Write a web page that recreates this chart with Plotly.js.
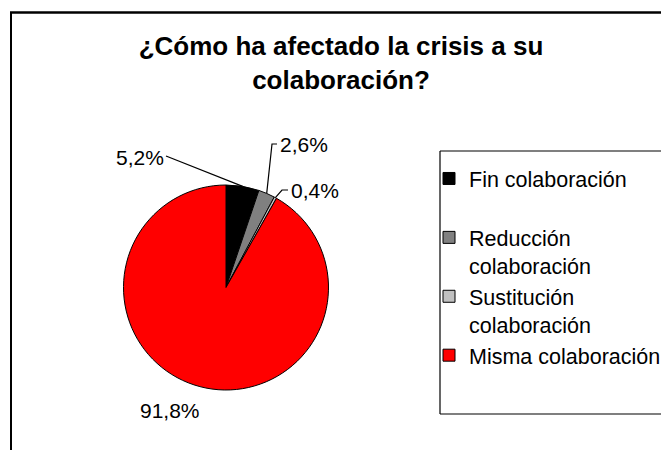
<!DOCTYPE html>
<html>
<head>
<meta charset="utf-8">
<script src="https://cdn.plot.ly/plotly-3.0.1.min.js"></script>
<style>
  html, body { margin: 0; padding: 0; background: #ffffff; }
  #chart { width: 661px; height: 450px; }
</style>
</head>
<body>
<div id="chart"></div>
<script>
// ---- data ----
const categories = ['Fin colaboración', 'Reducción colaboración', 'Sustitución colaboración', 'Misma colaboración'];
const legendLabels = ['Fin colaboración<br>\u00a0', 'Reducción<br>colaboración', 'Sustitución<br>colaboración', 'Misma colaboración'];
const values = [5.2, 2.6, 0.4, 91.8];
const colors = ['#000000', '#808080', '#c0c0c0', '#ff0000'];
const titleText = '¿Cómo ha afectado la crisis a su<br>colaboración?';

// ---- layout geometry (pixels) ----
const W = 661, H = 450;
const cx = 226, cy = 287.5, R = 102.5;
const FONT = 'Liberation Sans, Arial, sans-serif';

// label placement (text centre and leader elbow points, pixels)
const labelPlacement = [
  { text: [140, 157], leader: [[166, 156]] },
  { text: [304, 145], leader: [[277, 144], [272, 144]] },
  { text: [315, 190], leader: [[288, 190], [282, 190]] },
  { text: [170, 410], leader: [] }
];

const px = x => x / W;
const py = y => 1 - y / H;
const pathOf = pts => pts.map((p, k) => (k === 0 ? 'M' : 'L') + px(p[0]).toFixed(5) + ',' + py(p[1]).toFixed(5)).join(' ');
const lineShape = (x0, y0, x1, y1, w) => ({
  type: 'line', xref: 'paper', yref: 'paper', layer: 'above',
  x0: px(x0), y0: py(y0), x1: px(x1), y1: py(y1),
  line: { color: '#000000', width: w }
});

const total = values.reduce((a, b) => a + b, 0);
let cum = 0;
const annotations = [];
const shapes = [];

values.forEach((v, i) => {
  const midFrac = (cum + v / 2) / total;
  cum += v;
  const ang = midFrac * 2 * Math.PI; // clockwise from 12 o'clock
  const ex = cx + R * Math.sin(ang);
  const ey = cy - R * Math.cos(ang);
  const pl = labelPlacement[i];
  annotations.push({
    xref: 'paper', yref: 'paper',
    x: px(pl.text[0]), y: py(pl.text[1]),
    xanchor: 'center', yanchor: 'middle',
    text: v.toFixed(1).replace('.', ',') + '%',
    showarrow: false,
    font: { family: FONT, size: 21, color: '#000000' }
  });
  if (pl.leader.length) {
    shapes.push({
      type: 'path', xref: 'paper', yref: 'paper',
      path: pathOf(pl.leader.concat([[ex, ey]])),
      line: { color: '#000000', width: 1.2 }
    });
  }
});

// outer chart frame (left and top edges; right/bottom lie outside the picture)
shapes.push(lineShape(11, 450, 11, 12.5, 2));
shapes.push(lineShape(10, 12.5, 661, 12.5, 2.5));
// legend frame (left, top, bottom edges)
shapes.push(lineShape(440, 151, 661, 151, 1.2));
shapes.push(lineShape(440, 151, 440, 414, 1.2));
shapes.push(lineShape(440, 414, 661, 414, 1.2));

const trace = {
  type: 'pie',
  labels: legendLabels,
  values: values,
  customdata: categories,
  sort: false,
  direction: 'clockwise',
  rotation: 0,
  textinfo: 'none',
  hoverinfo: 'skip',
  marker: { colors: colors, line: { color: '#000000', width: 1 } },
  domain: { x: [px(cx - R), px(cx + R)], y: [py(cy + R), py(cy - R)] },
  automargin: false
};

const layout = {
  width: W, height: H,
  margin: { l: 0, r: 0, t: 0, b: 0, autoexpand: false },
  paper_bgcolor: '#ffffff',
  font: { family: FONT, color: '#000000' },
  title: {
    text: '<b>' + titleText + '</b>',
    font: { family: FONT, size: 26, color: '#000000' },
    x: 341 / W, xanchor: 'center', xref: 'container',
    y: 1 - 55 / H, yanchor: 'top', yref: 'container'
  },
  showlegend: true,
  legend: {
    x: px(469 - 40), xanchor: 'left',
    y: py(158), yanchor: 'top',
    bgcolor: 'rgba(0,0,0,0)', borderwidth: 0,
    font: { family: FONT, size: 21.5, color: '#000000' },
    valign: 'top', traceorder: 'normal'
  },
  annotations: annotations,
  shapes: shapes
};

Plotly.newPlot('chart', [trace], layout, { displayModeBar: false, staticPlot: true });
</script>
</body>
</html>
